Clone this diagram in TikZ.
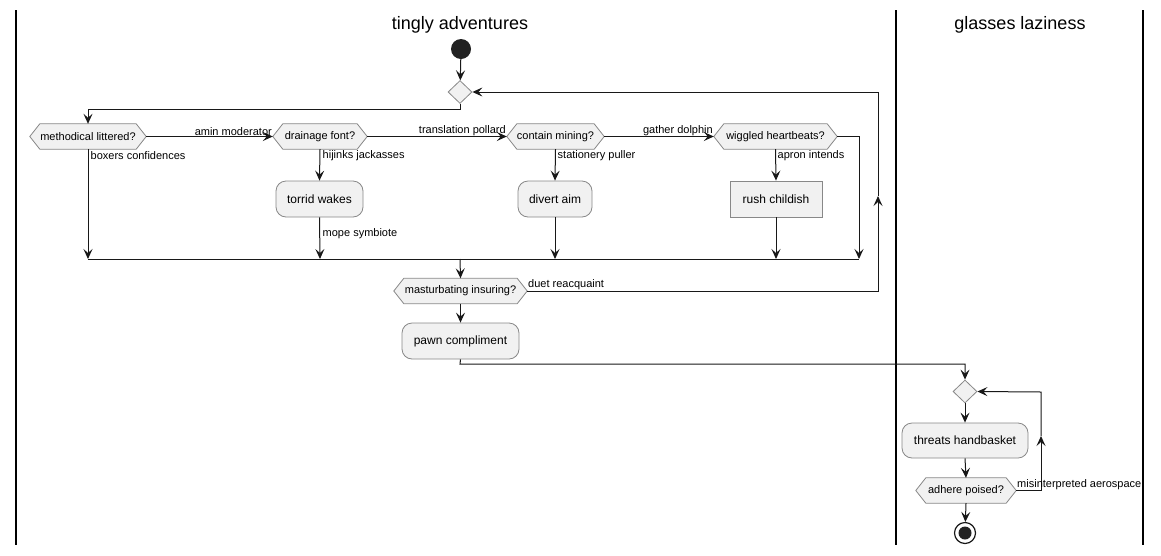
\documentclass[tikz,border=0pt]{standalone}
\usepackage{fontspec}
\setmainfont{Liberation Sans}
\usetikzlibrary{arrows.meta,backgrounds}
\definecolor{boxfill}{HTML}{F1F1F1}
\definecolor{boxline}{HTML}{888888}
\definecolor{ink}{HTML}{181818}
\definecolor{dot}{HTML}{222222}
\tikzset{
  arr/.style={draw=ink, line width=1pt, -{Stealth[length=10pt,width=9pt,inset=4pt]}},
  ln/.style={draw=ink, line width=1pt},
  dtext/.style={inner sep=0pt, minimum height=25pt, font=\fontsize{11}{13}\selectfont, text=black},
  dshape/.style={draw=boxline, fill=boxfill, line width=0.8pt},
  act/.style={draw=boxline, fill=boxfill, line width=0.8pt, rounded corners=10pt, inner sep=0pt, minimum height=36pt, font=\fontsize{12}{14}\selectfont},
  actsq/.style={draw=boxline, fill=boxfill, line width=0.8pt, inner sep=0pt, minimum height=36pt, font=\fontsize{12}{14}\selectfont},
  merge/.style={draw=boxline, fill=boxfill, line width=0.8pt, diamond, inner sep=0pt, minimum width=24pt, minimum height=23pt},
  elab/.style={font=\fontsize{11}{13}\selectfont, inner sep=0.5pt},
  lane/.style={draw=black, line width=1.2pt},
  ltitle/.style={font=\fontsize{18}{20}\selectfont, inner sep=0pt},
}
\usetikzlibrary{shapes.geometric}
\newcommand\decis[5]{%
  \node[dtext, minimum width=#4pt] (#1) at (#2,#3) {#5};
  \begin{pgfonlayer}{background}
  \draw[dshape] (#1.west) -- ([xshift=10pt]#1.north west) -- ([xshift=-10pt]#1.north east) -- (#1.east) -- ([xshift=-10pt]#1.south east) -- ([xshift=10pt]#1.south west) -- cycle;
  \end{pgfonlayer}}
\begin{document}
\begin{tikzpicture}[x=1pt,y=-1pt]
\begin{pgfonlayer}{background}
\fill[white] (0,0) rectangle (1161,555);
\end{pgfonlayer}
\useasboundingbox (0,0) rectangle (1161,555);
% lanes
\draw[lane] (16,10) -- (16,545);
\draw[lane] (896,10) -- (896,545);
\draw[lane] (1143,10) -- (1143,545);
\node[ltitle] (t1) at (460,25) {tingly adventures};
\node[ltitle] (t2) at (1020,25) {glasses laziness};
% start
\node[circle, fill=dot, minimum size=20pt, inner sep=0pt] (start) at (461,49) {};
\node[merge] (m1) at (460,92) {};
% decisions
\decis{d1}{88}{136.5}{116}{methodical littered?}
\decis{d2}{320}{136.5}{94}{drainage font?}
\decis{d3}{555.5}{136.5}{97}{contain mining?}
\decis{d4}{775.5}{136.5}{123}{wiggled heartbeats?}
% activities
\node[act, minimum width=87pt] (a1) at (319.5,199) {torrid wakes};
\node[act, minimum width=74pt] (a2) at (555,199) {divert aim};
\node[actsq, minimum width=92pt] (a3) at (776,199) {rush childish};
\decis{d5}{460.5}{291}{133}{masturbating insuring?}
\node[act, minimum width=117pt] (a4) at (460.5,341) {pawn compliment};
% lane 2
\node[merge] (m2) at (965,391.5) {};
\node[act, minimum width=126pt, minimum height=35pt] (a5) at (965,440.5) {threats handbasket};
\decis{d6}{966}{490.5}{100}{adhere poised?}
\node[circle, draw=ink, fill=white, line width=1.2pt, minimum size=21pt, inner sep=0pt] (end) at (965,533) {};
\node[circle, fill=dot, minimum size=13pt, inner sep=0pt] at (end.center) {};
% coordinates
\coordinate (c1) at (460,109);
\coordinate (c2) at (88,109);
\coordinate (b1) at (88,259);
\coordinate (b2) at (320,259);
\coordinate (b3) at (555,259);
\coordinate (b4) at (776,259);
\coordinate (b5) at (859,259);
\coordinate (b6) at (859,136.5);
\coordinate (bm) at (460,259);
\coordinate (r1) at (878,291);
\coordinate (r1m) at (878,196);
\coordinate (r2) at (878,92);
\coordinate (p1) at (460,364);
\coordinate (p2) at (965,364);
\coordinate (s1) at (1041,490.5);
\coordinate (s1m) at (1041,436);
\coordinate (s2) at (1041,392);
% connectors
\draw[arr] (start) -- (m1);
\draw[arr] (m1.south) -- (c1) -- (c2) -- (d1.north);
\draw[arr] (d1.east) -- (d2.west) node[elab, above left] {amin moderator};
\draw[arr] (d2.east) -- (d3.west) node[elab, above left] {translation pollard};
\draw[arr] (d3.east) -- (d4.west) node[elab, above left] {gather dolphin};
\draw[arr] (d1.south) -- (b1);
\node[elab, anchor=west] at (90,156) {boxers confidences};
\draw[arr] (d2.south) -- (a1.north);
\node[elab, anchor=west] at (322,156) {hijinks jackasses};
\draw[arr] (a1.south) -- (b2);
\node[elab, anchor=west] at (322,234) {mope symbiote};
\draw[arr] (d3.south) -- (a2.north);
\node[elab, anchor=west] at (557,156) {stationery puller};
\draw[arr] (a2.south) -- (b3);
\draw[arr] (d4.south) -- (a3.north);
\node[elab, anchor=west] at (777,156) {apron intends};
\draw[arr] (a3.south) -- (b4);
\draw[arr] (d4.east) -- (b6) -- (b5);
\draw[ln] (b1) -- (b5);
\draw[arr] (bm) -- (d5.north);
\draw[arr] (d5.east) node[elab, above right] {duet reacquaint} -- (r1) -- (r1m);
\draw[arr] (r1m) -- (r2) -- (m1.east);
\draw[arr] (d5.south) -- (a4.north);
\draw[arr] (a4.south) -- (p1) -- (p2) -- (m2.north);
\draw[arr] (m2.south) -- (a5.north);
\draw[arr] (a5.south) -- (d6.north);
\draw[arr] (d6.east) node[elab, above right] {misinterpreted aerospace} -- (s1) -- (s1m);
\draw[arr] (s1m) -- (s2) -- (m2.east);
\draw[arr] (d6.south) -- (end);
\end{tikzpicture}
\end{document}
